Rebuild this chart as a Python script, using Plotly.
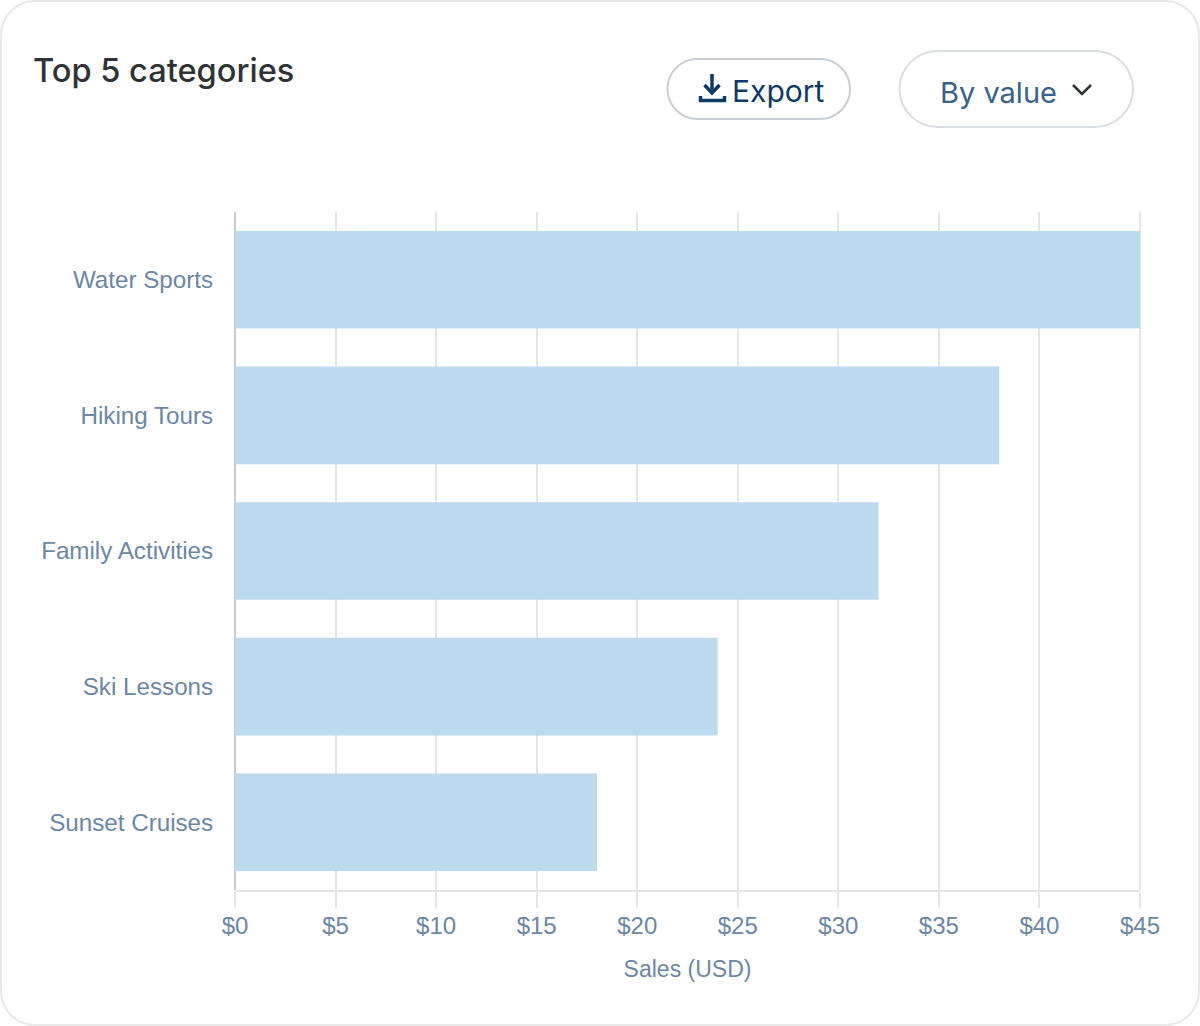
import plotly.graph_objects as go

categories = ["Water Sports", "Hiking Tours", "Family Activities", "Ski Lessons", "Sunset Cruises"]
sales = [45, 38, 32, 24, 18]
tick_values = [0, 5, 10, 15, 20, 25, 30, 35, 40, 45]
tick_labels = ["$0", "$5", "$10", "$15", "$20", "$25", "$30", "$35", "$40", "$45"]

W, H = 1200, 1026
L, R, T, B = 235, 1140, 212, 890


def px(x):
    return (x - L) / (R - L)


def py(y):
    return (B - y) / (B - T)


def P(x, y):
    return f"{px(x):.5f},{py(y):.5f}"


def rounded(x0, y0, x1, y1, r):
    k = r * 0.4477
    return (
        f"M{P(x0 + r, y0)} L{P(x1 - r, y0)} "
        f"C{P(x1 - k, y0)} {P(x1, y0 + k)} {P(x1, y0 + r)} "
        f"L{P(x1, y1 - r)} C{P(x1, y1 - k)} {P(x1 - k, y1)} {P(x1 - r, y1)} "
        f"L{P(x0 + r, y1)} C{P(x0 + k, y1)} {P(x0, y1 - k)} {P(x0, y1 - r)} "
        f"L{P(x0, y0 + r)} C{P(x0, y0 + k)} {P(x0 + k, y0)} {P(x0 + r, y0)} Z"
    )


def shape(path, color, width, fill=None):
    return dict(
        type="path", xref="paper", yref="paper", path=path, layer="below",
        line=dict(color=color, width=width), fillcolor=fill or "rgba(0,0,0,0)",
    )


def polyline(points):
    return "M" + " L".join(P(x, y) for x, y in points)


shapes = [
    shape(rounded(1, 1, 1199, 1025, 34), "#e8e8e8", 2, "#ffffff"),
    shape(rounded(667.5, 59, 850, 119, 30), "#c9ced6", 2),
    shape(rounded(899.5, 51, 1133, 127, 38), "#dadde2", 2),
    shape(polyline([(712, 74), (712, 93)]), "#0f3a66", 3.5),
    shape(polyline([(704.5, 85), (712, 93), (719.5, 85)]), "#0f3a66", 3.5),
    shape(polyline([(700.5, 96), (700.5, 100.5), (724.5, 100.5), (724.5, 96)]), "#0f3a66", 3.5),
    shape(polyline([(1073, 85), (1082, 94), (1091, 85)]), "#2f3336", 2.5),
    shape(polyline([(R, T), (R, B)]), "#e5e5e5", 2),
    shape(polyline([(L, T), (L, B)]), "#c8ccd2", 2),
]

annotations = [
    dict(x=px(31), y=py(70), text="Top 5 categories", font=dict(family="Inter", size=32.6, weight=500, color="#2f3336")),
    dict(x=px(730), y=py(91), text="Export", font=dict(family="Inter", size=30, color="#0f3a66")),
    dict(x=px(938), y=py(93), text="By value", font=dict(family="Inter", size=29, color="#3a6186")),
]
for a in annotations:
    a.update(xref="paper", yref="paper", xanchor="left", yanchor="middle", showarrow=False)

fig = go.Figure(
    go.Bar(
        y=categories, x=sales, orientation="h",
        marker=dict(color="#bcdaed", line=dict(width=0)),
    )
)
fig.update_layout(
    width=W, height=H,
    margin=dict(l=L, r=W - R, t=T, b=H - B, pad=0),
    paper_bgcolor="#ffffff", plot_bgcolor="rgba(0,0,0,0)",
    bargap=0.28, showlegend=False,
    font=dict(family="Liberation Sans", size=24, color="#6c87a3"),
    shapes=shapes, annotations=annotations,
)
fig.update_xaxes(
    range=[0, 45], tickmode="array", tickvals=tick_values, ticktext=tick_labels,
    showgrid=True, gridcolor="#e5e5e5", gridwidth=2,
    ticks="outside", ticklen=16, tickcolor="#e5e5e5", tickwidth=2,
    showline=True, linecolor="#e5e5e5", linewidth=2, zeroline=False,
    ticklabelstandoff=-3,
    tickfont=dict(size=24, color="#6c87a3"),
    title=dict(text="Sales (USD)", font=dict(size=23, color="#6c87a3"), standoff=23),
)
fig.update_yaxes(
    autorange="reversed", showgrid=False, zeroline=False, showline=False,
    ticks="outside", ticklen=16, tickcolor="rgba(0,0,0,0)",
    tickfont=dict(size=24.2, color="#6c87a3"),
)

fig.write_html("out.html", post_script="document.body.style.margin='0';", config=dict(displayModeBar=False))
